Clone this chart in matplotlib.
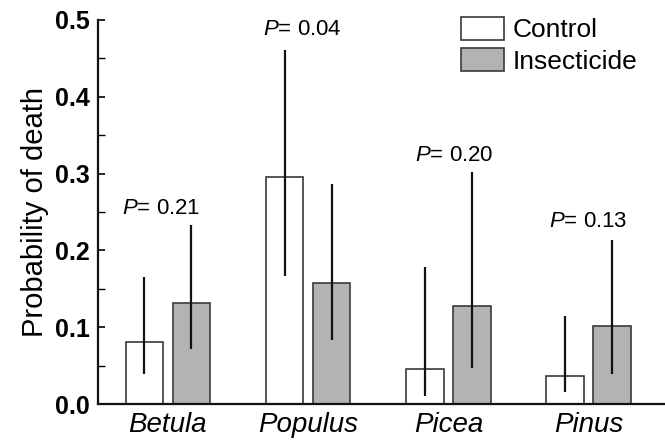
import numpy as np
import matplotlib
matplotlib.use('Agg')
import matplotlib.pyplot as plt

plt.rcParams['font.family'] = ['Liberation Sans', 'DejaVu Sans']
plt.rcParams['mathtext.fontset'] = 'custom'
plt.rcParams['mathtext.rm'] = 'Liberation Sans'
plt.rcParams['mathtext.it'] = 'Liberation Sans:italic'

species = ['Betula', 'Populus', 'Picea', 'Pinus']
control = [0.081, 0.296, 0.045, 0.036]
control_lo = [0.039, 0.167, 0.011, 0.015]
control_hi = [0.166, 0.461, 0.179, 0.115]
insect = [0.131, 0.158, 0.128, 0.101]
insect_lo = [0.071, 0.083, 0.047, 0.039]
insect_hi = [0.233, 0.286, 0.302, 0.214]
p_values = ['0.21', '0.04', '0.20', '0.13']

x = np.arange(len(species))
w = 0.268
off = 0.168

fig = plt.figure(figsize=(6.65, 4.43), dpi=100)
ax = fig.add_axes([0.147, 0.088, 0.853, 0.867])

ax.bar(x - off, control, width=w, color='white', edgecolor='#3a3a3a', linewidth=1.2,
       label='Control', zorder=2)
ax.bar(x + off, insect, width=w, color='#b3b3b3', edgecolor='#3a3a3a', linewidth=1.2,
       label='Insecticide', zorder=2)
ax.vlines(x - off, control_lo, control_hi, color='#111111', linewidth=1.6, zorder=3)
ax.vlines(x + off, insect_lo, insect_hi, color='#111111', linewidth=1.6, zorder=3)

# P-value labels
p_pos = [(-0.05, 0.255), (0.96, 0.487), (2.04, 0.323), (3.0, 0.237)]
for (px, py), p in zip(p_pos, p_values):
    ax.text(px, py, '$P$= ' + p, ha='center', va='center', fontsize=16)

ax.set_xlim(-0.5, 3.545)
ax.set_ylim(0, 0.5)
ax.set_yticks(np.arange(0, 0.51, 0.1))
ax.set_yticklabels(['0.0', '0.1', '0.2', '0.3', '0.4', '0.5'], fontweight='bold')
ax.set_yticks(np.arange(0.05, 0.5, 0.1), minor=True)
ax.tick_params(axis='y', which='major', direction='in', length=5, width=1.2,
               labelsize=18, pad=6)
ax.tick_params(axis='y', which='minor', direction='in', length=5, width=1.0)
ax.set_xticks(x)
ax.set_xticklabels(species, fontstyle='italic', fontsize=20)
ax.tick_params(axis='x', length=0, pad=6)

for s in ['top', 'right']:
    ax.spines[s].set_visible(False)
for s in ['left', 'bottom']:
    ax.spines[s].set_linewidth(1.6)
    ax.spines[s].set_color('#111111')

ax.set_ylabel('Probability of death', fontsize=21, labelpad=4)

ax.legend(loc='upper right', bbox_to_anchor=(637 / 665, 1 - 17 / 443),
          bbox_transform=fig.transFigure, frameon=False,
          fontsize=19, handlelength=1.65, handleheight=0.95, labelspacing=0.22,
          handletextpad=0.3, borderaxespad=0, borderpad=0)

fig.savefig('out.png', dpi=100)
